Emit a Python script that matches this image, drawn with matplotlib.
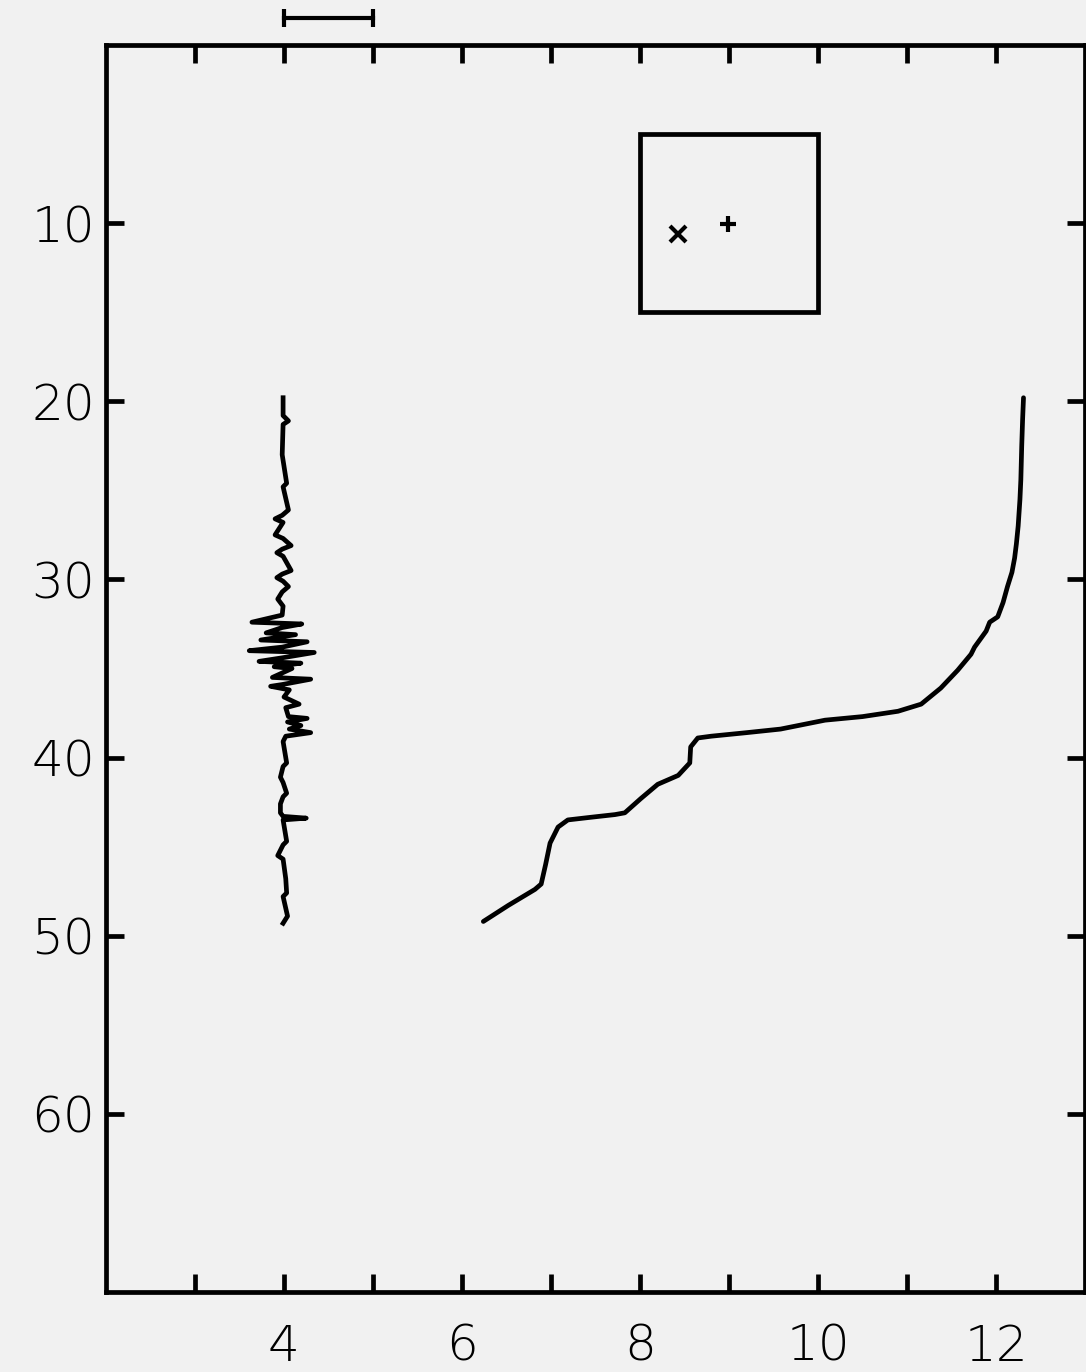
import matplotlib
matplotlib.use("Agg")
import matplotlib.pyplot as plt
from matplotlib.patches import Rectangle

# Curva da direita (x, profundidade)
curve_x = [12.31, 12.30, 12.29, 12.28, 12.27, 12.25, 12.23, 12.21, 12.18, 12.13,
           12.08, 12.02, 11.93, 11.89, 11.76, 11.72, 11.57, 11.38, 11.16, 10.90,
           10.50, 10.08, 9.58, 9.20, 8.80, 8.65, 8.57, 8.56, 8.43, 8.20,
           8.01, 7.83, 7.72, 7.45, 7.19, 7.08, 6.99, 6.94, 6.89, 6.82,
           6.52, 6.24]
curve_d = [19.8, 21.0, 22.5, 24.4, 25.5, 27.0, 28.0, 28.8, 29.6, 30.4,
           31.3, 32.1, 32.4, 32.9, 33.8, 34.2, 35.1, 36.1, 37.0, 37.4,
           37.7, 37.9, 38.4, 38.6, 38.8, 38.9, 39.4, 40.3, 41.0, 41.5,
           42.3, 43.1, 43.2, 43.35, 43.5, 43.9, 44.8, 46.0, 47.1, 47.4,
           48.3, 49.2]

# Traco ruidoso perto de x = 4
trace_d = [19.8, 20.8, 21.1, 21.3, 23.0, 24.6, 24.8, 26.1, 26.4, 26.6,
           26.8, 27.5, 27.7, 28.1, 28.3, 28.5, 28.7, 29.5, 29.7, 29.9,
           30.1, 30.4, 30.7, 31.1, 31.5, 32.0, 32.4, 32.5, 32.7, 33.0,
           33.1, 33.4, 33.5, 33.8, 34.0, 34.1, 34.4, 34.6, 34.7, 34.9,
           35.0, 35.5, 35.6, 35.9, 36.0, 36.2, 36.6, 37.0, 37.2, 37.7,
           37.8, 38.0, 38.2, 38.4, 38.6, 38.8, 39.1, 40.3, 40.5, 41.1,
           41.4, 42.0, 42.2, 42.6, 43.1, 43.3, 43.4, 43.5, 44.7, 44.9,
           45.5, 45.7, 46.8, 47.6, 47.8, 48.9, 49.3]
trace_x = [3.99, 3.99, 4.05, 3.99, 3.98, 4.03, 3.99, 4.05, 3.98, 3.90,
           3.99, 3.90, 3.99, 4.08, 3.98, 3.92, 3.99, 4.08, 3.98, 3.92,
           3.99, 4.05, 3.98, 3.93, 3.99, 3.98, 3.64, 4.20, 3.98, 3.80,
           4.13, 3.74, 4.26, 3.98, 3.61, 4.34, 3.98, 3.72, 4.19, 3.89,
           4.09, 3.87, 4.30, 3.98, 3.85, 4.06, 4.00, 4.17, 4.02, 4.05,
           4.26, 4.04, 4.19, 4.06, 4.30, 4.02, 3.99, 4.03, 3.99, 3.96,
           3.99, 4.03, 3.99, 3.96, 3.96, 3.99, 4.25, 3.99, 4.03, 3.99,
           3.93, 3.99, 4.02, 4.03, 3.99, 4.04, 3.99]

# Caixa e marcadores
box_x = [8.0, 10.0]
box_d = [5.0, 15.0]
cross_x, cross_d = [8.43], [10.6]
plus_x, plus_d = [8.99], [10.06]

# Barra de escala acima do grafico
scale_x = [4.0, 5.0]
scale_d = [-1.5, -1.5]

x_major = [4, 6, 8, 10, 12]
x_minor = [3, 5, 7, 9, 11]
y_ticks = [10, 20, 30, 40, 50, 60]

bg = "#f1f1f1"
lw = 3.4

fig = plt.figure(figsize=(10.86, 13.72), dpi=100, facecolor=bg)
ax = fig.add_axes([0.0976, 0.0583, 0.9014, 0.9089], facecolor=bg)

ax.plot(curve_x, curve_d, color="black", lw=lw, solid_capstyle="round",
        solid_joinstyle="round")
ax.plot(trace_x, trace_d, color="black", lw=lw, solid_joinstyle="round")

ax.add_patch(Rectangle((box_x[0], box_d[0]), box_x[1] - box_x[0],
                       box_d[1] - box_d[0], fill=False, lw=lw, ec="black"))
ax.plot(cross_x, cross_d, marker="x", ms=11, mew=3, color="black", ls="none")
ax.plot(plus_x, plus_d, marker="+", ms=12, mew=3, color="black", ls="none")

ax.plot(scale_x, scale_d, color="black", lw=3, marker="|", ms=13, mew=3,
        clip_on=False)

ax.set_xlim(2, 13)
ax.set_ylim(70, 0)

ax.set_xticks(x_major)
ax.set_xticks(x_minor, minor=True)
ax.set_yticks(y_ticks)
ax.tick_params(which="both", direction="in", length=13, width=lw,
               top=True, right=True, labelsize=36, color="black")
ax.tick_params(axis="x", which="major", pad=22)
ax.tick_params(axis="y", which="major", pad=8)
for lab in ax.get_xticklabels() + ax.get_yticklabels():
    lab.set_fontweight("light")

for s in ax.spines.values():
    s.set_linewidth(lw)

fig.savefig("out.png", dpi=100, facecolor=bg)
